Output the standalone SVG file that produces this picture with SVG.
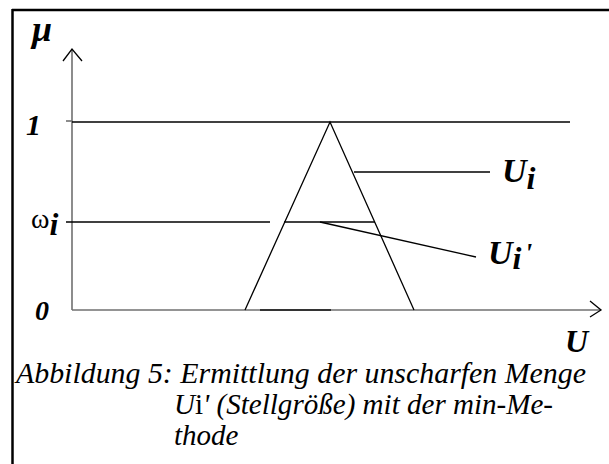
<svg xmlns="http://www.w3.org/2000/svg" width="609" height="464" viewBox="0 0 609 464">
<style>
.lbl{font-family:"Liberation Serif",serif;font-weight:bold;font-style:italic;fill:#000}
.cap{font-family:"Liberation Serif",serif;font-size:29px;font-style:italic;fill:#000}
.up{font-style:normal}
.ln{stroke:#000;stroke-width:1.3;fill:none}
.ax{stroke:#707070;stroke-width:1.6;fill:none}
</style>
<rect width="609" height="464" fill="#fff"/>
<g id="frame">
<line x1="12" y1="10" x2="609" y2="10" stroke="#000" stroke-width="2.5"/>
<line x1="12.5" y1="9" x2="12.5" y2="464" stroke="#000" stroke-width="2.5"/>
</g>
<g id="connectors">
<line class="ax" x1="72" y1="49" x2="72" y2="310"/>
<polyline class="ln" points="63,61 72,49 82,61"/>
<line class="ax" x1="72" y1="310" x2="601" y2="310"/>
<polyline class="ln" points="590,301 601,310 590,317"/>
<line class="ax" x1="66" y1="121" x2="72" y2="121"/>
<line class="ln" x1="72" y1="122" x2="570" y2="122"/>
<line class="ln" x1="66" y1="222" x2="270" y2="222"/>
<line class="ln" x1="284" y1="222" x2="375" y2="222"/>
<polyline class="ln" points="245,310 330,122 414,310"/>
<line x1="260" y1="310" x2="331" y2="310" stroke="#333" stroke-width="2"/>
<line class="ln" x1="354" y1="172" x2="490" y2="172"/>
<line class="ln" x1="320" y1="222" x2="476" y2="257"/>
</g>
<g id="labels">
<text class="lbl" x="32" y="41" font-size="36">μ</text>
<text class="lbl" x="26" y="135" font-size="30">1</text>
<text x="31" y="228" font-family="Liberation Serif,serif" font-size="28">ω<tspan class="lbl" font-size="32" dy="7">i</tspan></text>
<text class="lbl" x="35" y="320" font-size="28">0</text>
<text class="lbl" x="565" y="352" font-size="32">U</text>
<text class="lbl" x="502" y="182" font-size="34">U<tspan font-size="32" dy="7">i</tspan></text>
<text class="lbl" x="488" y="264" font-size="34">U<tspan font-size="32" dy="5">i</tspan><tspan font-size="28" dx="3" dy="-7">'</tspan></text>
</g>
<g id="caption">
<text class="cap" x="16" y="383" textLength="570" lengthAdjust="spacingAndGlyphs">Abbildung 5: Ermittlung der unscharfen Menge</text>
<text class="cap" x="174" y="414" textLength="379" lengthAdjust="spacingAndGlyphs">U<tspan class="up">i</tspan>' (Stellgröße) mit der min-Me-</text>
<text class="cap" x="174" y="445">thode</text>
</g>
</svg>
